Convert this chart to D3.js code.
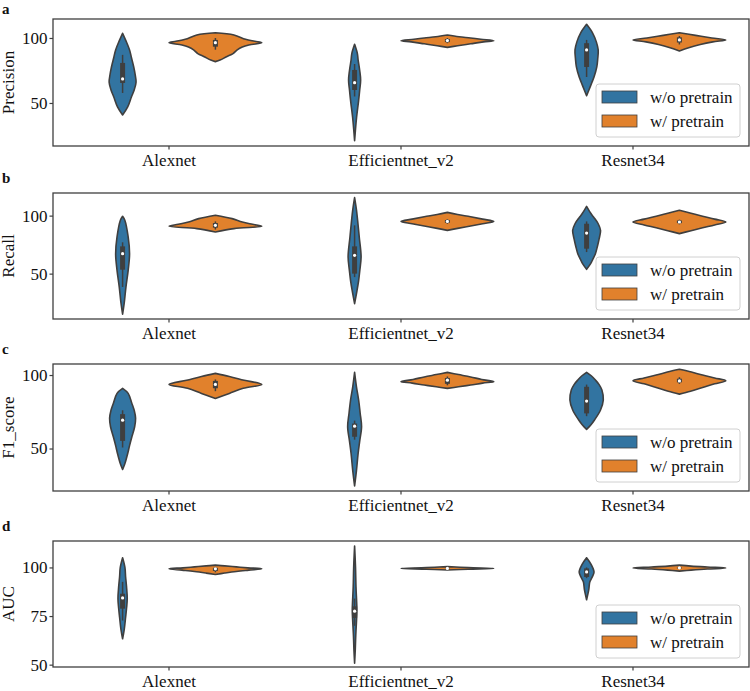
<!DOCTYPE html>
<html><head><meta charset="utf-8">
<script src="https://cdn.jsdelivr.net/npm/d3@7"></script>
<style>body{margin:0;background:#fff}svg{display:block}</style>
</head><body><svg id="c" width="750" height="691"></svg>
<script>
// ---------------- DATA ----------------
const categories = ["Alexnet", "Efficientnet_v2", "Resnet34"];
const hues = ["w/o pretrain", "w/ pretrain"];
const metrics = ["Precision", "Recall", "F1_score", "AUC"];
const panelLetters = ["a", "b", "c", "d"];
const yTicks = [[50, 100], [50, 100], [50, 100], [50, 75, 100]];
const yDomains = [[16.9, 114.6], [10.9, 119.5], [21.1, 107.5], [48.8, 113.6]];

// violin outlines: [value, relative half-width (1 = full dodge width)]
const precisionProfiles = [
  [[[40.8,0],[47,0.11],[54.6,0.19],[60,0.25],[66,0.29],[72,0.27],[77.7,0.24],[85,0.19],[90.8,0.15],[98,0.07],[103.6,0]],
   [[81.8,0],[83,0.1],[85.6,0.24],[88,0.38],[90.8,0.47],[93,0.58],[94.6,0.72],[96.4,1.0],[97.5,0.85],[99,0.65],[102.3,0.4],[104,0]]],
  [[[21,0],[30,0.02],[39,0.043],[52,0.087],[60,0.11],[67.7,0.13],[75,0.11],[83,0.076],[88,0.06],[95.1,0]],
   [[92.8,0],[94,0.22],[95.5,0.5],[97,0.78],[97.9,1.0],[99,0.72],[100,0.5],[101,0.25],[102.3,0]]],
  [[[55.6,0],[60,0.05],[65.4,0.11],[70,0.16],[77.8,0.22],[84,0.24],[90.8,0.25],[97,0.21],[103.8,0.13],[110.5,0]],
   [[90,0],[92.5,0.2],[95,0.45],[97,0.72],[98.5,1.0],[100,0.7],[102,0.35],[104,0]]]
];
const recallProfiles = [
  [[[15,0],[24.1,0.033],[38.4,0.072],[52.8,0.12],[67.2,0.15],[81.6,0.12],[96,0.048],[99.4,0]],
   [[85.9,0],[88.8,0.4],[90.8,1.0],[92.5,0.8],[94.5,0.58],[97.4,0.36],[100.3,0]]],
  [[[24.1,0],[35,0.05],[44,0.087],[52,0.11],[64.3,0.14],[81.6,0.1],[96,0.065],[105,0.04],[115.5,0]],
   [[87.3,0],[89,0.22],[91,0.5],[93,0.76],[95,1.0],[97,0.76],[99,0.5],[101,0.22],[102.8,0]]],
  [[[53.7,0],[58.6,0.087],[62,0.13],[67.2,0.19],[73,0.23],[80,0.27],[87.3,0.30],[93,0.25],[98.8,0.15],[102,0.09],[108,0]],
   [[84.5,0],[87,0.25],[89.5,0.5],[92,0.76],[94.5,1.0],[97,0.76],[99.5,0.5],[102,0.25],[104.6,0]]]
];
const f1Profiles = [
  [[[35.7,0],[39.8,0.05],[46.6,0.11],[52,0.15],[58,0.2],[64.8,0.26],[70.5,0.28],[76,0.25],[80.7,0.2],[87.5,0.12],[90.9,0]],
   [[84.1,0],[87.5,0.3],[91,0.6],[93.6,1.0],[96.5,0.62],[99,0.3],[101.1,0]]],
  [[[24.5,0],[35,0.04],[46.6,0.076],[55,0.11],[64.8,0.15],[74,0.12],[83,0.087],[92,0.04],[101.8,0]],
   [[90.9,0],[92,0.24],[93.2,0.5],[94.5,0.76],[95.5,1.0],[97,0.74],[98.7,0.5],[100.3,0.24],[101.8,0]]],
  [[[63,0],[66,0.09],[69.4,0.17],[76.2,0.30],[83,0.36],[89.8,0.33],[93.5,0.27],[96.6,0.19],[99.5,0.1],[101.8,0]],
   [[87,0],[89,0.24],[91.5,0.5],[94,0.76],[96.1,1.0],[98,0.76],[100,0.5],[102,0.26],[103.9,0]]]
];
const aucProfiles = [
  [[[63.3,0],[68,0.035],[74.4,0.065],[79,0.085],[84,0.1],[90,0.085],[95.1,0.065],[100,0.05],[105,0]],
   [[96.4,0],[97.1,0.2],[97.9,0.45],[98.6,0.72],[99.3,1.0],[99.8,0.7],[100.3,0.45],[100.8,0.2],[101.2,0]]],
  [[[50.7,0],[58,0.015],[65,0.025],[72,0.04],[77.9,0.05],[82,0.045],[90,0.03],[100,0.02],[111,0]],
   [[98.7,0],[99.1,0.45],[99.5,1.0],[99.9,0.45],[100.4,0]]],
  [[[83.4,0],[88.3,0.045],[92.6,0.07],[95,0.12],[97.7,0.16],[101.5,0.1],[105,0]],
   [[98.1,0],[98.6,0.25],[99.2,0.6],[99.7,1.0],[100.2,0.6],[100.7,0.25],[101.2,0]]]
];
const allProfiles = [precisionProfiles, recallProfiles, f1Profiles, aucProfiles];

// inner boxes: [whisker low, q1, median, q3, whisker high]
const precisionBoxes = [
  [[57.7,65.4,68.5,80.8,87], [91,93.3,96.4,98.5,100]],
  [[55,60,65.6,75.4,80], [96,96.8,98,99.2,100]],
  [[70,77.7,90.8,96,98.5], [95,96.5,98.5,100.5,101.5]]
];
const recallBoxes = [
  [[38.5,53.4,67.2,73.5,77], [88,89.6,91.6,93.6,95]],
  [[47,50,65.8,73.5,91.6], [93,93.8,95,96.2,97]],
  [[68.6,71.5,85,93,95], [92.5,93.5,94.5,95.8,96.5]]
];
const f1Boxes = [
  [[50.7,55.2,69.3,73.4,76], [89,91,93.6,96,97]],
  [[56,58,65.2,67,69], [93,94,96.5,98,99]],
  [[72,73.9,82.3,92,93.5], [94,95,96,97.5,98.5]]
];
const aucBoxes = [
  [[72.7,78.8,84.3,86.5,92.6], [97.5,98.2,99.3,99.8,100.2]],
  [[70,74,77.5,80,84], [99.3,99.4,99.5,99.6,99.7]],
  [[94.5,95.1,97.7,99.5,100], [99.3,99.5,99.8,100,100.3]]
];
const allBoxes = [precisionBoxes, recallBoxes, f1Boxes, aucBoxes];

const hueColors = ["#3274a1", "#e1812c"];

// ---------------- LAYOUT ----------------
const FONT = '"Liberation Serif", "Times New Roman", Times, serif';
const svg = d3.select("#c").attr("font-family", FONT);
const left = 53, right = 749;
const panelTops = [19, 193, 364, 541];
const panelBottoms = [146, 319, 491, 667];
const fs = 17;
const edge = "#3f3f3f";

function serif(sel) { return sel.attr("font-family", FONT).style("font-family", FONT).attr("fill", "#111"); }

metrics.forEach((m, pi) => {
  const top = panelTops[pi], bottom = panelBottoms[pi];
  const g = svg.append("g");
  const x = d3.scaleBand().domain(categories).range([left, right]).padding(0);
  const bw = x.bandwidth();
  const xh = d3.scaleBand().domain(hues).range([-0.4 * bw, 0.4 * bw]);
  const hwMax = xh.bandwidth() / 2;
  const y = d3.scaleLinear().domain(yDomains[pi]).range([bottom, top]);

  // violins
  categories.forEach((c, ci) => {
    hues.forEach((h, hi) => {
      const cx = x(c) + bw / 2 + xh(h) + xh.bandwidth() / 2;
      const prof = allProfiles[pi][ci][hi];
      const area = d3.area()
        .curve(d3.curveCatmullRom.alpha(0.5))
        .y(d => y(d[0]))
        .x0(d => cx - d[1] * hwMax)
        .x1(d => cx + d[1] * hwMax);
      g.append("path").attr("d", area(prof))
        .attr("fill", hueColors[hi]).attr("stroke", edge)
        .attr("stroke-width", 1.6).attr("stroke-linejoin", "round");
      const b = allBoxes[pi][ci][hi];
      g.append("line").attr("x1", cx).attr("x2", cx)
        .attr("y1", y(b[0])).attr("y2", y(b[4]))
        .attr("stroke", edge).attr("stroke-width", 1.5);
      g.append("line").attr("x1", cx).attr("x2", cx)
        .attr("y1", y(b[1])).attr("y2", y(b[3]))
        .attr("stroke", edge).attr("stroke-width", 5);
      g.append("circle").attr("cx", cx).attr("cy", y(b[2])).attr("r", 1.6)
        .attr("fill", "#fff");
    });
  });

  // axes
  const yAxis = d3.axisLeft(y).tickValues(yTicks[pi]).tickSize(3.5).tickPadding(2);
  const ga = g.append("g").attr("transform", `translate(${left},0)`).call(yAxis);
  const xAxis = d3.axisBottom(x).tickSize(3.5).tickPadding(4.5);
  const gx = g.append("g").attr("transform", `translate(0,${bottom})`).call(xAxis);
  [ga, gx].forEach(a => {
    a.attr("font-family", FONT).attr("font-size", fs);
    a.select(".domain").remove();
    a.selectAll(".tick line").attr("stroke", edge).attr("stroke-width", 1.2);
    serif(a.selectAll(".tick text")).style("font-size", fs + "px");
  });

  // frame
  g.append("rect").attr("x", left).attr("y", top).attr("width", right - left)
    .attr("height", bottom - top).attr("fill", "none").attr("stroke", edge).attr("stroke-width", 1.3);

  // y label
  serif(g.append("text").attr("transform", `translate(14,${(top + bottom) / 2}) rotate(-90)`)
    .attr("text-anchor", "middle").style("font-size", fs + "px").text(m));

  // panel letter
  serif(g.append("text").attr("x", 2).attr("y", Math.max(14, top - 10))
    .style("font-size", "15px").style("font-weight", "bold").text(panelLetters[pi]));

  // legend
  const lw = 144, lh = 53;
  const lx = right - 9 - lw, ly = bottom - 9 - lh;
  const lg = g.append("g").attr("transform", `translate(${lx},${ly})`);
  lg.append("rect").attr("width", lw).attr("height", lh).attr("rx", 3)
    .attr("fill", "#fff").attr("fill-opacity", 0.8).attr("stroke", "#d0d0d0");
  hues.forEach((h, hi) => {
    const ry = 7 + hi * 24;
    lg.append("rect").attr("x", 6).attr("y", ry).attr("width", 35).attr("height", 12)
      .attr("fill", hueColors[hi]).attr("stroke", edge).attr("stroke-width", 0.8);
    serif(lg.append("text").attr("x", 54).attr("y", ry + 6).attr("dy", "0.35em")
      .style("font-size", fs + "px").text(h));
  });
});
</script></body></html>
